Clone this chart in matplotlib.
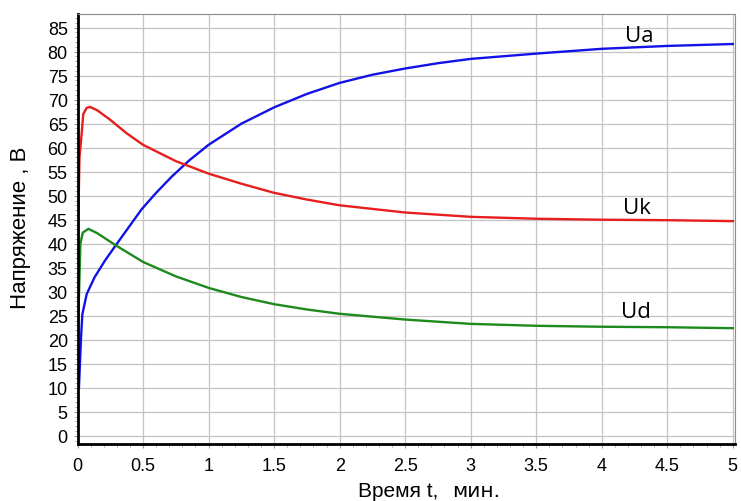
import matplotlib.pyplot as plt
from matplotlib.ticker import MultipleLocator, FuncFormatter

# Ua
t_a = [0.011, 0.027, 0.037, 0.07, 0.13, 0.21, 0.29, 0.39, 0.49, 0.6, 0.72, 0.85, 1, 1.25, 1.5,
       1.75, 2, 2.25, 2.5, 2.75, 3, 3.5, 4, 4.5, 5]
u_a = [10, 20.5, 25.3, 29.5, 33, 36.5, 39.6, 43.4, 47.2, 50.6, 54.0, 57.3, 60.6, 65, 68.4,
       71.2, 73.5, 75.2, 76.5, 77.6, 78.5, 79.6, 80.6, 81.2, 81.6]

# Uk
t_k = [0.003, 0.006, 0.015, 0.032, 0.044, 0.07, 0.095, 0.15, 0.25, 0.375, 0.5, 0.75, 1, 1.25,
       1.5, 1.75, 2, 2.5, 3, 3.5, 4, 4.5, 5]
u_k = [25, 45, 58, 63, 67, 68.3, 68.5, 67.8, 65.8, 63.0, 60.6, 57.2, 54.6, 52.5,
       50.6, 49.2, 48.0, 46.5, 45.6, 45.2, 45.0, 44.9, 44.7]

# Ud
t_d = [0.003, 0.008, 0.015, 0.022, 0.04, 0.083, 0.15, 0.29, 0.5, 0.75, 1, 1.25, 1.5, 1.75,
       2, 2.5, 3, 3.5, 4, 4.5, 5]
u_d = [20, 26, 33, 40, 42.3, 43.1, 42.2, 39.7, 36.2, 33.2, 30.8, 28.9, 27.4, 26.3,
       25.4, 24.2, 23.3, 22.9, 22.7, 22.6, 22.4]

fig = plt.figure(figsize=(7.41, 5.02), dpi=100)
ax = fig.add_axes([0.1046, 0.1135, 0.887, 0.8566])

ax.plot(t_a, u_a, color="#1212e6", lw=1.7)
ax.plot(t_k, u_k, color="#e61e1e", lw=1.7)
ax.plot(t_d, u_d, color="#1c8a1c", lw=1.7)

ax.text(4.29, 82.3, "Ua", fontsize=16, family="Open Sans", ha="center", va="baseline")
ax.text(4.27, 46.5, "Uk", fontsize=16, family="Open Sans", ha="center", va="baseline")
ax.text(4.26, 24.7, "Ud", fontsize=16, family="Open Sans", ha="center", va="baseline")

ax.set_xlim(0, 5.015)
ax.set_ylim(-1.73, 87.85)
ax.xaxis.set_major_locator(MultipleLocator(0.5))
ax.xaxis.set_minor_locator(MultipleLocator(0.1))
ax.yaxis.set_major_locator(MultipleLocator(5))
ax.yaxis.set_minor_locator(MultipleLocator(1))
ax.xaxis.set_major_formatter(FuncFormatter(lambda v, p: f"{v:g}"))

ax.grid(True, which="major", color="#c4c4c4", lw=0.9)
ax.tick_params(which="both", direction="out", color="#999999", labelsize=13)
ax.tick_params(axis="x", which="major", length=3, pad=6)
ax.tick_params(axis="y", which="major", length=3, pad=4)
ax.tick_params(which="minor", length=2)
for lbl in ax.get_xticklabels() + ax.get_yticklabels():
    lbl.set_family("Liberation Sans")

ax.spines["left"].set_linewidth(2)
ax.spines["bottom"].set_linewidth(2)
ax.spines["top"].set_color("#8c8c8c")
ax.spines["right"].set_color("#8c8c8c")

# axis titles (the unit part of x title is in a wider font in the original)
fig.text(0.483, 0.01, "Время t,", fontsize=15, family="Liberation Sans", va="baseline")
fig.text(0.61, 0.01, "мин.", fontsize=14.5, family="DejaVu Sans", va="baseline")
fig.text(0.027, 0.546, "Напряжение , В", fontsize=16, family="Liberation Sans",
         rotation=90, ha="center", va="center")

fig.savefig("out.png", dpi=100)
